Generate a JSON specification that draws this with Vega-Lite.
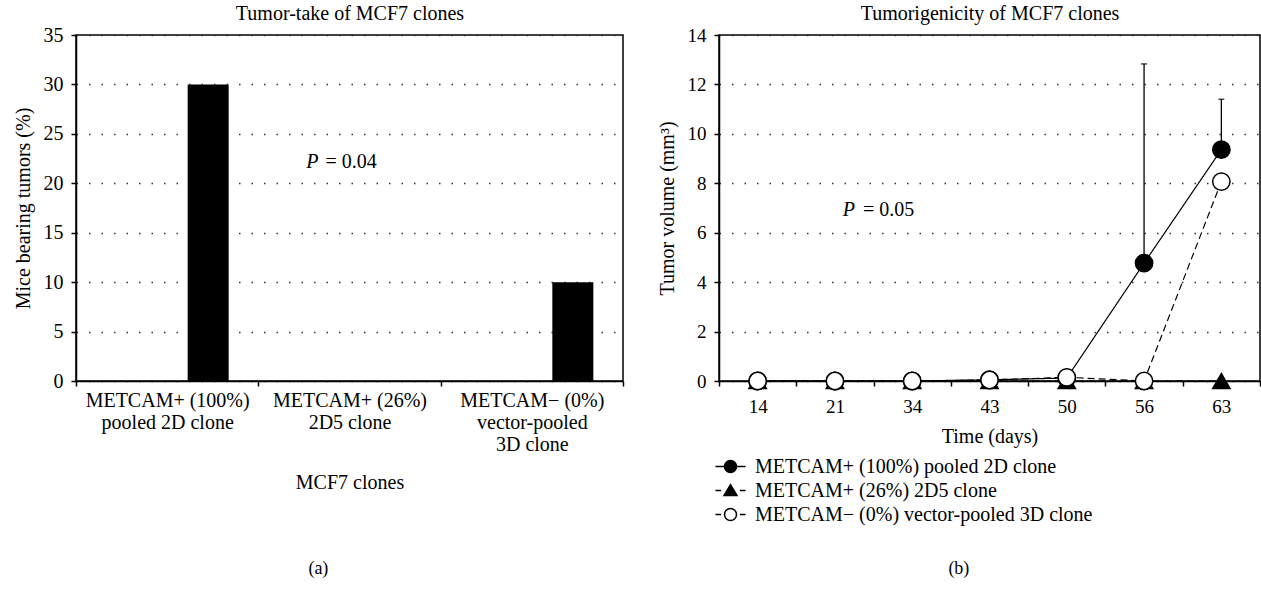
{
  "$schema": "https://vega.github.io/schema/vega-lite/v6.json",
  "background": "white",
  "padding": {"left": 12, "top": 2, "right": 0, "bottom": 0},
  "spacing": 31,
  "resolve": {"legend": {"fill": "independent", "shape": "independent", "stroke": "independent"}},
  "config": {
    "font": "Liberation Serif",
    "view": {"stroke": "black", "strokeWidth": 1.5},
    "axis": {
      "labelFont": "Liberation Serif", "titleFont": "Liberation Serif",
      "labelColor": "black", "titleColor": "black", "titleFontWeight": "normal",
      "domainColor": "black", "tickColor": "black", "domainWidth": 1.5, "tickWidth": 1.5,
      "tickSize": 5, "labelFontSize": 20, "titleFontSize": 20
    },
    "title": {"font": "Liberation Serif", "fontWeight": "normal", "fontSize": 18, "color": "black"}
  },
  "datasets": {
    "take": [
      {"clone": "METCAM+ (100%)|pooled 2D clone", "pct": 30},
      {"clone": "METCAM+ (26%)|2D5 clone", "pct": 0},
      {"clone": "METCAM− (0%)|vector-pooled|3D clone", "pct": 10}
    ],
    "take_p": [
      {"clone": "METCAM+ (26%)|2D5 clone", "pct": 22.2, "p": "P", "rest": "= 0.04"}
    ],
    "vol": [
      {"series": "METCAM+ (26%) 2D5 clone", "day": "14", "vol": 0},
      {"series": "METCAM+ (26%) 2D5 clone", "day": "21", "vol": 0},
      {"series": "METCAM+ (26%) 2D5 clone", "day": "34", "vol": 0},
      {"series": "METCAM+ (26%) 2D5 clone", "day": "43", "vol": 0},
      {"series": "METCAM+ (26%) 2D5 clone", "day": "50", "vol": 0},
      {"series": "METCAM+ (26%) 2D5 clone", "day": "56", "vol": 0},
      {"series": "METCAM+ (26%) 2D5 clone", "day": "63", "vol": 0},
      {"series": "METCAM+ (100%) pooled 2D clone", "day": "14", "vol": 0},
      {"series": "METCAM+ (100%) pooled 2D clone", "day": "21", "vol": 0},
      {"series": "METCAM+ (100%) pooled 2D clone", "day": "34", "vol": 0},
      {"series": "METCAM+ (100%) pooled 2D clone", "day": "43", "vol": 0.05},
      {"series": "METCAM+ (100%) pooled 2D clone", "day": "50", "vol": 0.12},
      {"series": "METCAM+ (100%) pooled 2D clone", "day": "56", "vol": 4.77},
      {"series": "METCAM+ (100%) pooled 2D clone", "day": "63", "vol": 9.36},
      {"series": "METCAM− (0%) vector-pooled 3D clone", "day": "14", "vol": 0},
      {"series": "METCAM− (0%) vector-pooled 3D clone", "day": "21", "vol": 0},
      {"series": "METCAM− (0%) vector-pooled 3D clone", "day": "34", "vol": 0},
      {"series": "METCAM− (0%) vector-pooled 3D clone", "day": "43", "vol": 0.04},
      {"series": "METCAM− (0%) vector-pooled 3D clone", "day": "50", "vol": 0.15},
      {"series": "METCAM− (0%) vector-pooled 3D clone", "day": "56", "vol": 0},
      {"series": "METCAM− (0%) vector-pooled 3D clone", "day": "63", "vol": 8.07}
    ],
    "err": [
      {"day": "56", "vol": 4.77, "hi": 12.83},
      {"day": "63", "vol": 9.36, "hi": 11.4}
    ],
    "vol_p": [
      {"day": "21", "vol": 6.92, "p": "P", "rest": "= 0.05"}
    ]
  },
  "hconcat": [
    {
      "width": 547,
      "height": 346,
      "title": {"text": "(a)", "orient": "bottom", "frame": "bounds", "anchor": "middle", "offset": 68},
      "resolve": {"axis": {"x": "independent"}},
      "layer": [
        {
          "data": {"name": "take"},
          "mark": {"type": "bar", "color": "black", "width": 41, "xOffset": 41},
          "encoding": {
            "x": {
              "field": "clone", "type": "nominal",
              "scale": {"domain": ["METCAM+ (100%)|pooled 2D clone", "METCAM+ (26%)|2D5 clone", "METCAM− (0%)|vector-pooled|3D clone"], "paddingInner": 0, "paddingOuter": 0},
              "axis": {
                "orient": "bottom", "title": "MCF7 clones", "labelAngle": 0, "tickBand": "extent",
                "labelExpr": "split(datum.label, '|')", "labelLineHeight": 22, "labelPadding": 4,
                "titlePadding": 18, "grid": false
              }
            },
            "y": {
              "field": "pct", "type": "quantitative",
              "scale": {"domain": [0, 35], "nice": false},
              "axis": {
                "title": "Mice bearing tumors (%)", "values": [0, 5, 10, 15, 20, 25, 30, 35],
                "labelPadding": 8, "titlePadding": 10, "grid": true,
                "gridDash": [1.5, 11], "gridColor": "#333", "gridWidth": 1.5
              }
            }
          }
        },
        {
          "data": {"name": "take_p"},
          "mark": {"type": "text", "fontStyle": "italic", "align": "right", "baseline": "middle", "dx": -31, "fontSize": 20, "font": "Liberation Serif", "color": "black"},
          "encoding": {
            "x": {
              "field": "clone", "type": "nominal",
              "axis": {"orient": "top", "title": "Tumor-take of MCF7 clones", "labels": false, "ticks": false, "domain": false, "grid": false, "titlePadding": 12}
            },
            "y": {"field": "pct", "type": "quantitative"},
            "text": {"field": "p"}
          }
        },
        {
          "data": {"name": "take_p"},
          "mark": {"type": "text", "align": "left", "baseline": "middle", "dx": -24, "fontSize": 20, "font": "Liberation Serif", "color": "black"},
          "encoding": {
            "x": {"field": "clone", "type": "nominal", "axis": null},
            "y": {"field": "pct", "type": "quantitative"},
            "text": {"field": "rest"}
          }
        }
      ]
    },
    {
      "width": 541,
      "height": 346,
      "title": {"text": "(b)", "orient": "bottom", "frame": "bounds", "anchor": "middle", "offset": 35},
      "resolve": {"axis": {"x": "independent"}},
      "layer": [
        {
          "data": {"name": "vol"},
          "mark": {"type": "line", "color": "black", "strokeWidth": 1.2},
          "encoding": {
            "x": {
              "field": "day", "type": "nominal",
              "scale": {"domain": ["14", "21", "34", "43", "50", "56", "63"], "paddingInner": 0, "paddingOuter": 0},
              "axis": {"orient": "bottom", "title": "Time (days)", "labelAngle": 0, "tickBand": "extent", "labelFontSize": 19, "labelPadding": 11, "titlePadding": 10, "grid": false}
            },
            "y": {
              "field": "vol", "type": "quantitative",
              "scale": {"domain": [0, 14], "nice": false},
              "axis": {
                "title": "Tumor volume (mm³)", "values": [0, 2, 4, 6, 8, 10, 12, 14],
                "labelFontSize": 19, "labelPadding": 8, "titlePadding": 10, "grid": true,
                "gridDash": [1.5, 11], "gridColor": "#333", "gridWidth": 1.5
              }
            },
            "detail": {"field": "series", "type": "nominal"},
            "strokeDash": {
              "condition": {"test": "datum.series === 'METCAM+ (100%) pooled 2D clone'", "value": [1, 0]},
              "value": [7, 4]
            }
          }
        },
        {
          "data": {"name": "err"},
          "mark": {"type": "rule", "color": "black", "strokeWidth": 1.3},
          "encoding": {
            "x": {"field": "day", "type": "nominal", "axis": null},
            "y": {"field": "vol", "type": "quantitative"},
            "y2": {"field": "hi"}
          }
        },
        {
          "data": {"name": "err"},
          "mark": {"type": "tick", "color": "black", "size": 6, "thickness": 1.5},
          "encoding": {
            "x": {"field": "day", "type": "nominal", "axis": null},
            "y": {"field": "hi", "type": "quantitative"}
          }
        },
        {
          "data": {"name": "vol"},
          "transform": [{"filter": "false"}],
          "mark": {"type": "point", "filled": true, "strokeWidth": 1.5, "opacity": 1},
          "encoding": {
            "x": {"field": "day", "type": "nominal", "axis": null},
            "y": {"field": "vol", "type": "quantitative"},
            "shape": {
              "field": "series", "type": "nominal",
              "scale": {
                "domain": ["METCAM+ (100%) pooled 2D clone", "METCAM+ (26%) 2D5 clone", "METCAM− (0%) vector-pooled 3D clone"],
                "range": [
                  "M-1.2,0L-0.48,0M0.48,0L1.2,0M0.48,0A0.48,0.48 0 1,1 -0.48,0A0.48,0.48 0 1,1 0.48,0Z",
                  "M-1.2,0L-0.75,0M0.75,0L1.2,0M0,-0.46L0.52,0.4L-0.52,0.4Z",
                  "M-1.2,0L-0.75,0M0.75,0L1.2,0M0.48,0A0.48,0.48 0 1,1 -0.48,0A0.48,0.48 0 1,1 0.48,0Z"
                ]
              },
              "legend": {
                "title": null, "orient": "none", "legendX": -2, "legendY": 418, "direction": "vertical",
                "symbolSize": 625, "rowPadding": -6, "labelOffset": 11,
                "labelFont": "Liberation Serif", "labelFontSize": 20, "labelColor": "black", "labelLimit": 600,
                "symbolStrokeWidth": 1.5, "symbolOpacity": 1
              }
            },
            "stroke": {
              "field": "series", "type": "nominal",
              "scale": {"domain": ["METCAM+ (100%) pooled 2D clone", "METCAM+ (26%) 2D5 clone", "METCAM− (0%) vector-pooled 3D clone"], "range": ["black", "black", "black"]},
              "legend": {
                "title": null, "orient": "none", "legendX": -2, "legendY": 418, "direction": "vertical",
                "symbolSize": 625, "rowPadding": -6, "labelOffset": 11,
                "labelFont": "Liberation Serif", "labelFontSize": 20, "labelColor": "black", "labelLimit": 600,
                "symbolStrokeWidth": 1.5, "symbolOpacity": 1
              }
            },
            "fill": {
              "field": "series", "type": "nominal",
              "scale": {"domain": ["METCAM+ (100%) pooled 2D clone", "METCAM+ (26%) 2D5 clone", "METCAM− (0%) vector-pooled 3D clone"], "range": ["black", "black", "white"]},
              "legend": {
                "title": null, "orient": "none", "legendX": -2, "legendY": 418, "direction": "vertical",
                "symbolSize": 625, "rowPadding": -6, "labelOffset": 11,
                "labelFont": "Liberation Serif", "labelFontSize": 20, "labelColor": "black", "labelLimit": 600,
                "symbolStrokeWidth": 1.5, "symbolOpacity": 1
              }
            }
          }
        },
        {
          "data": {"name": "vol"},
          "mark": {"type": "point", "filled": true, "stroke": "black", "strokeWidth": 1.5, "size": 300, "opacity": 1},
          "encoding": {
            "x": {"field": "day", "type": "nominal", "axis": null},
            "y": {"field": "vol", "type": "quantitative"},
            "shape": {
              "condition": {"test": "datum.series === 'METCAM+ (26%) 2D5 clone'", "value": "triangle-up"},
              "value": "circle"
            },
            "fill": {
              "field": "series", "type": "nominal",
              "scale": {"domain": ["METCAM+ (100%) pooled 2D clone", "METCAM+ (26%) 2D5 clone", "METCAM− (0%) vector-pooled 3D clone"], "range": ["black", "black", "white"]},
              "legend": {
                "title": null, "orient": "none", "legendX": -2, "legendY": 418, "direction": "vertical",
                "symbolSize": 625, "rowPadding": -6, "labelOffset": 11,
                "labelFont": "Liberation Serif", "labelFontSize": 20, "labelColor": "black", "labelLimit": 600,
                "symbolStrokeWidth": 1.5, "symbolOpacity": 1
              }
            }
          }
        },
        {
          "data": {"name": "vol_p"},
          "mark": {"type": "text", "fontStyle": "italic", "align": "right", "baseline": "middle", "dx": 20, "fontSize": 20, "font": "Liberation Serif", "color": "black"},
          "encoding": {
            "x": {
              "field": "day", "type": "nominal",
              "axis": {"orient": "top", "title": "Tumorigenicity of MCF7 clones", "labels": false, "ticks": false, "domain": false, "grid": false, "titlePadding": 12}
            },
            "y": {"field": "vol", "type": "quantitative"},
            "text": {"field": "p"}
          }
        },
        {
          "data": {"name": "vol_p"},
          "mark": {"type": "text", "align": "left", "baseline": "middle", "dx": 28, "fontSize": 20, "font": "Liberation Serif", "color": "black"},
          "encoding": {
            "x": {"field": "day", "type": "nominal", "axis": null},
            "y": {"field": "vol", "type": "quantitative"},
            "text": {"field": "rest"}
          }
        }
      ]
    }
  ]
}
